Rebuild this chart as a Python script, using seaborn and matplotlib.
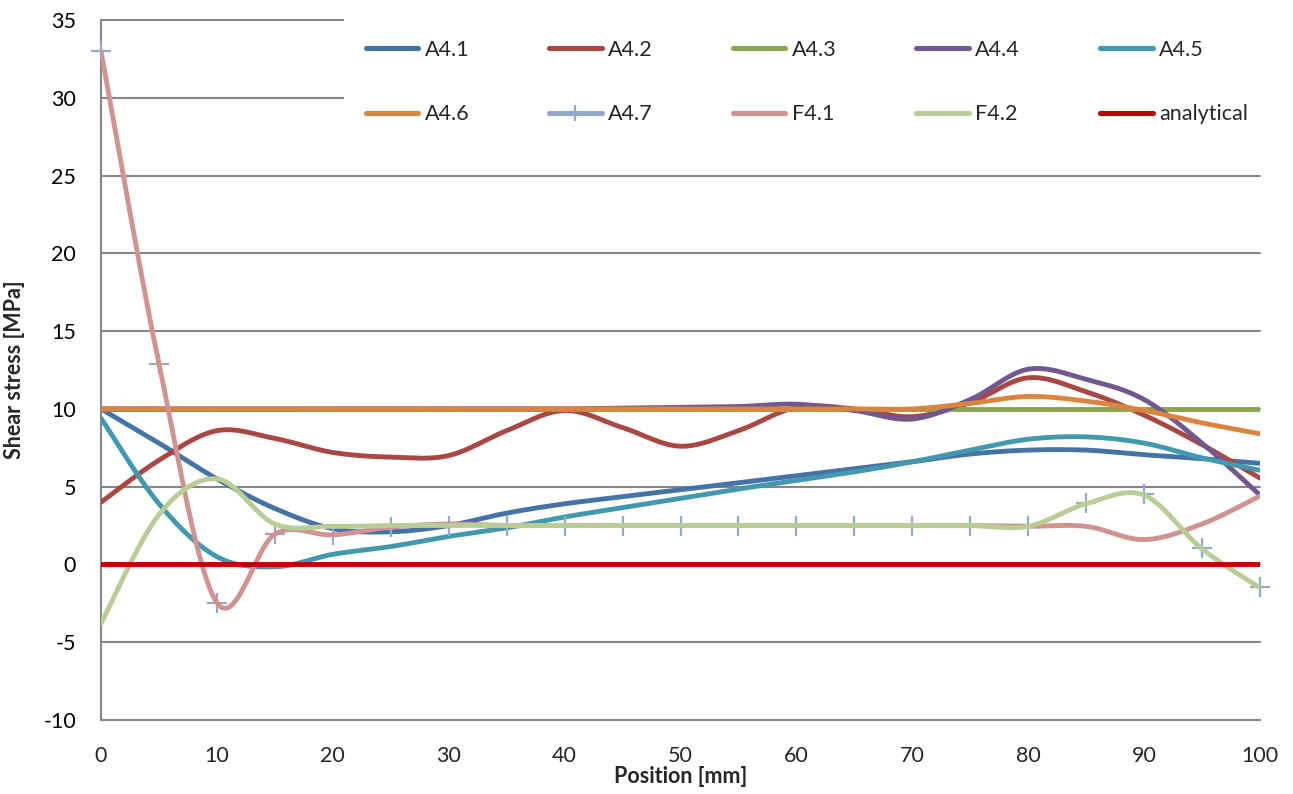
import numpy as np
import pandas as pd
import matplotlib
matplotlib.use("Agg")
import matplotlib.pyplot as plt
import seaborn as sns
from matplotlib.lines import Line2D

# ---------------- data ----------------
position = [0, 5, 10, 15, 20, 25, 30, 35, 40, 45, 50, 55, 60, 65, 70, 75, 80, 85, 90, 95, 100]

a41 = [10.0, 7.8, 5.5, 3.6, 2.3, 2.1, 2.5, 3.3, 3.9, 4.35, 4.8, 5.25, 5.7, 6.15, 6.6, 7.1, 7.35, 7.35, 7.05, 6.8, 6.5]
a42 = [4.0, 6.7, 8.6, 8.1, 7.2, 6.9, 7.0, 8.6, 9.9, 8.8, 7.6, 8.6, 10.1, 10.0, 9.5, 10.4, 12.0, 11.1, 9.6, 7.7, 5.55]
a43 = [10.0, 10.0, 10.0, 10.0, 10.0, 10.0, 10.0, 10.0, 10.0, 10.0, 10.0, 10.0, 10.0, 10.0, 10.0, 10.0, 10.0, 10.0, 10.0, 10.0, 10.0]
a44 = [10.0, 10.0, 10.0, 10.0, 10.0, 10.0, 10.0, 10.0, 10.0, 10.05, 10.1, 10.15, 10.3, 9.9, 9.35, 10.6, 12.55, 11.9, 10.6, 7.8, 4.45]
a45 = [9.4, 3.9, 0.5, -0.15, 0.65, 1.15, 1.8, 2.35, 3.05, 3.65, 4.25, 4.85, 5.4, 5.95, 6.6, 7.35, 8.05, 8.2, 7.8, 6.85, 6.05]
a46 = [10.0, 10.0, 10.0, 10.0, 10.0, 10.0, 10.0, 10.0, 10.0, 10.0, 10.0, 10.0, 10.0, 10.0, 10.0, 10.35, 10.8, 10.5, 9.9, 9.1, 8.4]
a47 = [33.0, 12.9, -2.45, 1.95, 1.9, 2.4, 2.5, 2.5, 2.5, 2.5, 2.5, 2.5, 2.5, 2.5, 2.5, 2.5, 2.5, 3.95, 4.5, 1.05, -1.45]
f41 = [33.0, 12.9, -2.45, 1.95, 1.9, 2.4, 2.6, 2.5, 2.5, 2.5, 2.5, 2.5, 2.5, 2.5, 2.5, 2.5, 2.45, 2.45, 1.6, 2.6, 4.4]
f42 = [-3.8, 3.2, 5.5, 2.6, 2.45, 2.5, 2.5, 2.5, 2.5, 2.5, 2.5, 2.5, 2.5, 2.5, 2.5, 2.5, 2.45, 3.9, 4.45, 1.0, -1.5]
analytical = [0.0, 0.0, 0.0, 0.0, 0.0, 0.0, 0.0, 0.0, 0.0, 0.0, 0.0, 0.0, 0.0, 0.0, 0.0, 0.0, 0.0, 0.0, 0.0, 0.0, 0.0]

series_names = ["A4.1", "A4.2", "A4.3", "A4.4", "A4.5", "A4.6", "A4.7", "F4.1", "F4.2", "analytical"]
series_values = [a41, a42, a43, a44, a45, a46, a47, f41, f42, analytical]
colors = ["#4572A7", "#AA4643", "#89A54E", "#71588F", "#4198AF", "#DB843D",
          "#93A9CF", "#D19392", "#B9CD96", "#C00000"]

x_ticks = [0, 10, 20, 30, 40, 50, 60, 70, 80, 90, 100]
y_ticks = [-10, -5, 0, 5, 10, 15, 20, 25, 30, 35]


def excel_smooth(xs, ys, n=30):
    """Excel-style smoothed line: cubic Bezier segments through the data points."""
    P = np.column_stack([np.asarray(xs, float), np.asarray(ys, float)])
    out = []
    for i in range(len(P) - 1):
        p0 = P[i - 1] if i > 0 else P[i]
        p1, p2 = P[i], P[i + 1]
        p3 = P[i + 2] if i + 2 < len(P) else P[i + 1]
        c1 = p1 + (p2 - p0) / 6.0
        c2 = p2 - (p3 - p1) / 6.0
        t = np.linspace(0, 1, n, endpoint=(i == len(P) - 2))[:, None]
        out.append((1 - t) ** 3 * p1 + 3 * (1 - t) ** 2 * t * c1 + 3 * (1 - t) * t ** 2 * c2 + t ** 3 * p2)
    S = np.vstack(out)
    return S[:, 0], S[:, 1]


sns.set_style("white")
plt.rcParams["font.family"] = ["Lato", "DejaVu Sans"]
FS = 15.5
GRID = "#868686"

fig = plt.figure(figsize=(12.93, 7.94), dpi=100)
ax = fig.add_axes([101 / 1293, 1 - 720 / 794, (1260 - 101) / 1293, 700 / 794])

LW = 3.5
for name, vals, col in zip(series_names, series_values, colors):
    if name == "A4.7":
        df = pd.DataFrame({"x": position, "y": vals})
        sns.scatterplot(data=df, x="x", y="y", marker="+", s=190, color=col,
                        linewidth=1.6, ax=ax, zorder=3, legend=False, clip_on=False)
        continue
    sx, sy = excel_smooth(position, vals)
    df = pd.DataFrame({"x": sx, "y": sy})
    sns.lineplot(data=df, x="x", y="y", sort=False, estimator=None, color=col,
                 linewidth=LW, ax=ax, legend=False, zorder=3,
                 solid_capstyle="round", solid_joinstyle="round")

ax.set_xlim(0, 100)
ax.set_ylim(-10, 35)
ax.set_yticks(y_ticks)
ax.set_yticklabels([str(v) for v in y_ticks], fontsize=FS)
ax.set_xticks(x_ticks)
ax.grid(axis="y", color=GRID, linewidth=1.5)
ax.grid(axis="x", visible=False)
for gl in ax.get_ygridlines():
    gl.set_clip_on(False)
ax.set_axisbelow(True)

for s in ["top", "right"]:
    ax.spines[s].set_visible(False)
ax.spines["left"].set_color(GRID)
ax.spines["left"].set_linewidth(1.5)
ax.spines["bottom"].set_position(("data", 0))
ax.spines["bottom"].set_visible(False)
ax.tick_params(axis="y", direction="out", length=6, width=1.5, color=GRID, pad=12, labelcolor="black")
ax.tick_params(axis="x", direction="out", length=6, width=1.5, color=GRID, labelbottom=False)
ax.set_xlabel("")
ax.set_ylabel("Shear stress [MPa]", fontsize=FS, fontweight="bold", labelpad=13)

sec = ax.secondary_xaxis("bottom")
sec.set_xticks(x_ticks)
sec.set_xticklabels([str(v) for v in x_ticks], fontsize=FS)
sec.tick_params(length=0, pad=19)
sec.spines["bottom"].set_color(GRID)
sec.spines["bottom"].set_linewidth(1.5)
sec.set_xlabel("Position [mm]", fontsize=FS, fontweight="bold", labelpad=0)

handle_map = {}
for name, col in zip(series_names, colors):
    if name == "A4.7":
        h = Line2D([], [], color=col, lw=3.7, marker="+", markersize=12,
                   markeredgewidth=1.6, solid_capstyle="round")
    else:
        h = Line2D([], [], color=col, lw=3.7, solid_capstyle="round")
    handle_map[name] = h

# legend is filled column by column: arrange so rows read like the reference
ncol = 5
row1 = series_names[:ncol]
row2 = series_names[ncol:]
leg_order = [n for pair in zip(row1, row2) for n in pair]
leg = fig.legend([handle_map[n] for n in leg_order], leg_order, loc="upper left",
                 bbox_to_anchor=(344 / 1293, 1 - 18 / 794), bbox_transform=fig.transFigure,
                 ncol=ncol, fontsize=FS, frameon=True, facecolor="white", edgecolor="none",
                 framealpha=1.0, fancybox=False, borderpad=1.0, handlelength=2.45,
                 handletextpad=0.3, columnspacing=3.7, labelspacing=2.08,
                 borderaxespad=0)

fig.savefig("out.png", dpi=100)
